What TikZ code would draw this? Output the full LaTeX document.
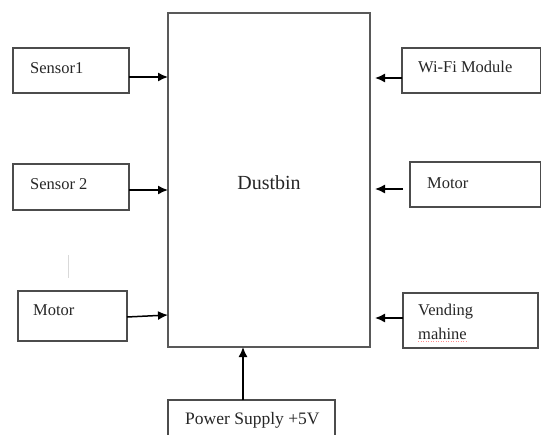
\documentclass[tikz,border=0pt]{standalone}
\usepackage{fontspec}
\setmainfont{Liberation Serif}
\usetikzlibrary{arrows.meta}
\begin{document}
\begin{tikzpicture}[x=1pt,y=-1pt,
  blk/.style={draw=black!70,line width=1.8pt},
  mainblk/.style={draw=black!65,line width=2.4pt},
  lbl/.style={anchor=west,inner sep=0pt,font=\fontsize{16.5}{18}\selectfont,text=black!85},
  conn/.style={draw=black,line width=1.5pt,-{Latex[length=10pt,width=9pt]}}]
\useasboundingbox (0,0) rectangle (541,434);
% main block
\draw[mainblk] (168,13) rectangle (370,347);
\node[inner sep=0pt,font=\fontsize{20}{22}\selectfont,text=black!85] (dust) at (269,183) {Dustbin};
\coordinate (mainL1) at (168,77);
\coordinate (mainL2) at (168,190);
\coordinate (mainL3) at (168,315);
\coordinate (mainR1) at (375,78);
\coordinate (mainR2) at (375,189);
\coordinate (mainR3) at (375,318);
\coordinate (mainB) at (243,347);
% left blocks
\draw[blk] (13,48) rectangle (129,93);
\node[lbl] (s1) at (30,68) {Sensor1};
\coordinate (s1r) at (129,77);
\draw[blk] (13,164) rectangle (129,210);
\node[lbl] (s2) at (30,184) {Sensor 2};
\coordinate (s2r) at (129,190);
\draw[blk] (18,291) rectangle (127,341);
\node[lbl] (m1) at (33,310) {Motor};
\coordinate (m1r) at (127,317);
% right blocks
\draw[blk] (402,48) rectangle (541,93);
\node[lbl] (wifi) at (418,67) {Wi-Fi Module};
\coordinate (wifil) at (402,78);
\draw[blk] (410,162) rectangle (541,207);
\node[lbl] (m2) at (427,183) {Motor};
\coordinate (m2l) at (403,189);
\draw[blk] (403,293) rectangle (538,348);
\node[lbl] (v1) at (418,312) {Vending};
\node[lbl] (v2) at (418,334) {mahine};
\draw[red!45,line width=0.5pt,dotted] (v2.south west) ++(0,1.5) -- ++(50,0);
\coordinate (vl) at (403,318);
% power supply
\draw[blk] (168,400) rectangle (335,440);
\node[lbl,font=\fontsize{17.5}{19}\selectfont] (ps) at (185,420) {Power Supply +5V};
\coordinate (pst) at (243,400);
% faint artifact line
\draw[black!15,line width=0.8pt] (68,255) -- (68,278);
% connectors
\draw[conn] (s1r) -- (mainL1);
\draw[conn] (s2r) -- (mainL2);
\draw[conn] (m1r) -- (mainL3);
\draw[conn] (wifil) -- (mainR1);
\draw[conn] (m2l) -- (mainR2);
\draw[conn] (vl) -- (mainR3);
\draw[conn] (pst) -- (mainB);
\end{tikzpicture}
\end{document}
